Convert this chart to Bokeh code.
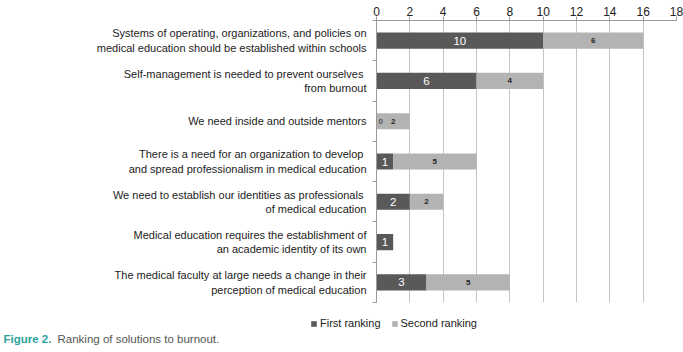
from bokeh.plotting import figure
from bokeh.models import Range1d, FixedTicker, ColumnDataSource, Legend, LegendItem, Label
from bokeh.layouts import column
from bokeh.core.properties import value
from bokeh.embed import file_html
from bokeh.resources import INLINE

categories = [
    "Systems of operating, organizations, and policies on\nmedical education should be established within schools",
    "Self-management is needed to prevent ourselves \nfrom burnout",
    "We need inside and outside mentors",
    "There is a need for an organization to develop \nand spread professionalism in medical education",
    "We need to establish our identities as professionals \nof medical education",
    "Medical education requires the establishment of\nan academic identity of its own",
    "The medical faculty at large needs a change in their\nperception of medical education",
]
first_ranking = [10, 6, 0, 1, 2, 1, 3]
second_ranking = [6, 4, 2, 5, 2, 0, 5]
series_names = ["First ranking", "Second ranking"]
x_ticks = [0, 2, 4, 6, 8, 10, 12, 14, 16, 18]
caption_head = "Figure 2."
caption_text = "Ranking of solutions to burnout."

FONT = "Liberation Sans"
DARK = "#595959"
LIGHT = "#b3b3b3"

n = len(categories)
pos = [i + 0.5 for i in range(n)]
right2 = [a + b for a, b in zip(first_ranking, second_ranking)]

p = figure(width=683, height=306, output_backend="svg", toolbar_location=None,
           x_axis_location="above", x_range=Range1d(0, 18), y_range=Range1d(n, 0),
           min_border_left=376, min_border_right=7, min_border_top=20, min_border_bottom=4)
p.outline_line_color = None
p.background_fill_color = "white"
p.border_fill_color = "white"
p.frame_align = False

p.hbar(y=pos, left=0, right=first_ranking, height=0.4, fill_color=DARK, line_color=None)
p.hbar(y=pos, left=first_ranking, right=right2, height=0.4, fill_color=LIGHT, line_color=None)

# labels on bars
src1 = ColumnDataSource(dict(
    x=[v / 2 for v in first_ranking if v > 0],
    y=[y for v, y in zip(first_ranking, pos) if v > 0],
    t=[str(v) for v in first_ranking if v > 0]))
p.text(x="x", y="y", text="t", source=src1, text_color="white", text_align="center",
       text_baseline="middle", text_font=value(FONT), text_font_size="11.5px")
src0 = ColumnDataSource(dict(
    x=[0 for v in first_ranking if v == 0],
    y=[y for v, y in zip(first_ranking, pos) if v == 0],
    t=[str(v) for v in first_ranking if v == 0]))
p.text(x="x", y="y", text="t", source=src0, text_color="#555555", text_align="left",
       text_baseline="middle", text_font=value(FONT), text_font_size="8px",
       text_font_style="bold", x_offset=2)
src2 = ColumnDataSource(dict(
    x=[a + b / 2 for a, b in zip(first_ranking, second_ranking) if b > 0],
    y=[y for b, y in zip(second_ranking, pos) if b > 0],
    t=[str(b) for b in second_ranking if b > 0]))
p.text(x="x", y="y", text="t", source=src2, text_color="#222222", text_align="center",
       text_baseline="middle", text_font=value(FONT), text_font_size="8px",
       text_font_style="bold")

# x axis (top)
xa = p.xaxis[0]
xa.ticker = FixedTicker(ticks=x_ticks, minor_ticks=[])
xa.axis_line_color = "#9a9a9a"
xa.major_tick_line_color = "#9a9a9a"
xa.major_tick_out = 4
xa.major_tick_in = 0
xa.minor_tick_line_color = None
xa.major_label_text_font = FONT
xa.major_label_text_font_size = "12px"
xa.major_label_text_color = "#222222"
xa.major_label_standoff = 1
p.xgrid.ticker = FixedTicker(ticks=x_ticks)
p.xgrid.grid_line_color = "#c4c4c4"
p.ygrid.grid_line_color = None

# y axis (categories)
ya = p.yaxis[0]
ya.ticker = FixedTicker(ticks=pos, minor_ticks=list(range(n + 1)))
ya.major_label_overrides = {pp: c for pp, c in zip(pos, categories)}
ya.axis_line_color = "#9a9a9a"
ya.major_tick_line_color = None
ya.major_tick_out = 0
ya.major_tick_in = 0
ya.minor_tick_line_color = "#9a9a9a"
ya.minor_tick_out = 4
ya.minor_tick_in = 0
ya.major_label_text_font = FONT
ya.major_label_text_font_size = "11px"
ya.major_label_text_color = "#222222"
ya.major_label_standoff = 6

# bottom strip: legend + caption (hidden renderers only provide the legend swatches)
q = figure(width=683, height=46, output_backend="svg", toolbar_location=None,
           x_axis_type=None, y_axis_type=None, x_range=Range1d(0, 18), y_range=Range1d(0, 1),
           min_border_left=0, min_border_right=0, min_border_top=0, min_border_bottom=0)
q.outline_line_color = None
q.grid.grid_line_color = None
q.frame_align = False
r1 = q.hbar(y=pos, left=0, right=first_ranking, height=0.4, fill_color=DARK,
            line_color=None, visible=False)
r2 = q.hbar(y=pos, left=first_ranking, right=right2, height=0.4, fill_color=LIGHT,
            line_color=None, visible=False)
lg = Legend(items=[LegendItem(label=series_names[0], renderers=[r1]),
                   LegendItem(label=series_names[1], renderers=[r2])],
            orientation="horizontal", location=(310, 22))
lg.border_line_color = None
lg.background_fill_alpha = 0
lg.inactive_fill_alpha = 0
lg.padding = 0
lg.margin = 0
lg.spacing = 10
lg.glyph_width = 7
lg.glyph_height = 7
lg.label_height = 14
lg.label_standoff = 3
lg.label_text_font = FONT
lg.label_text_font_size = "11px"
lg.label_text_color = "#222222"
q.add_layout(lg)

q.add_layout(Label(x=3, y=14, x_units="screen", y_units="screen", text=caption_head,
                   text_font=FONT, text_font_size="11.5px", text_font_style="bold",
                   text_color="#2aa39e", text_baseline="middle"))
q.add_layout(Label(x=57, y=14, x_units="screen", y_units="screen", text=caption_text,
                   text_font=FONT, text_font_size="11.5px", text_color="#555555",
                   text_baseline="middle"))

open("out.html", "w").write(file_html(column(p, q, spacing=0), INLINE))
